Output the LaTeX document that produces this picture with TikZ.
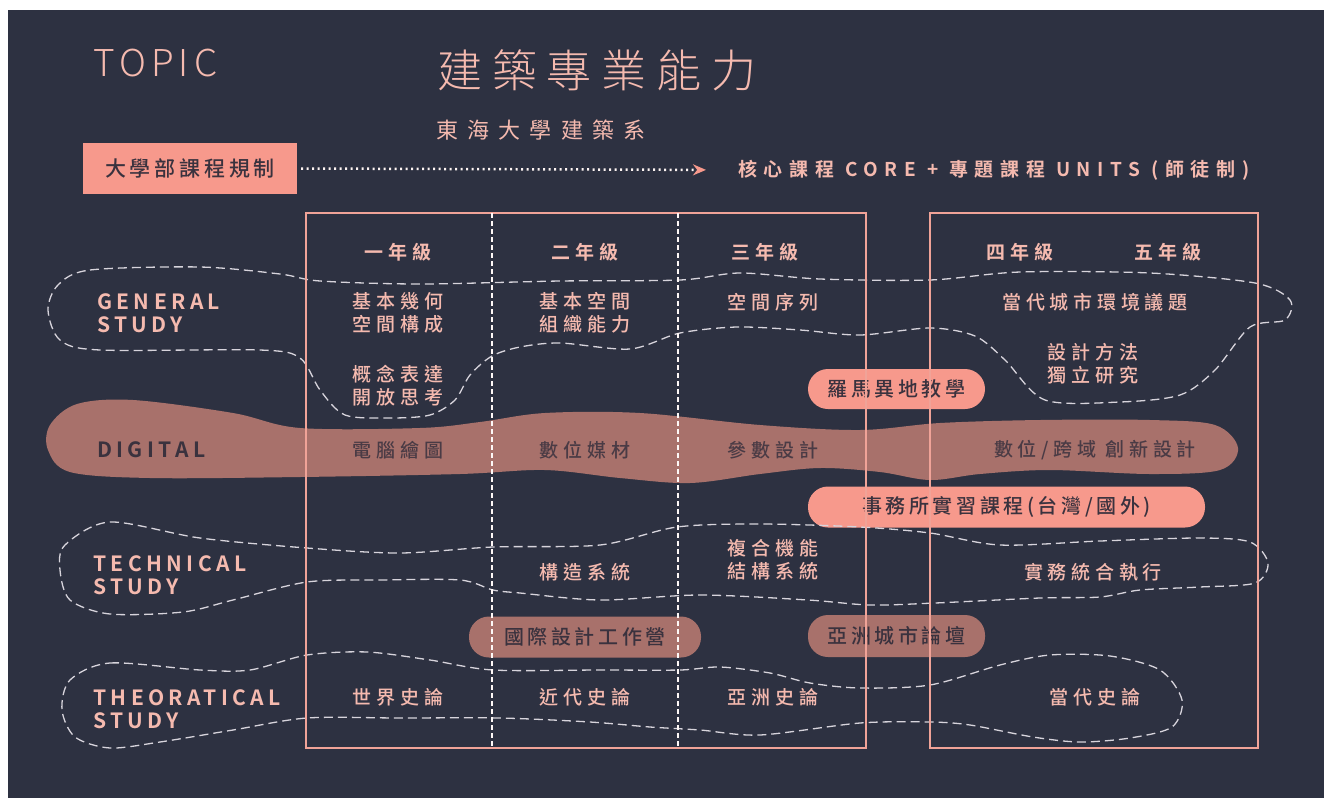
\documentclass[tikz,border=0pt]{standalone}
\usepackage{fontspec}
\usepackage{xcolor}
\usepackage{tikz}
\usetikzlibrary{arrows.meta}

\newfontfamily\cellfont[LetterSpace=25]{Noto Sans CJK TC Medium}
\newfontfamily\yearfont[LetterSpace=25]{Noto Sans CJK TC Bold}
\newfontfamily\labelfont[LetterSpace=21]{Noto Sans CJK TC Bold}
\newfontfamily\topicfont[LetterSpace=14]{Noto Sans CJK TC Light}
\newfontfamily\titlefont[LetterSpace=22]{Noto Sans CJK TC Light}
\newfontfamily\subtitlefont[LetterSpace=42]{Noto Sans CJK TC}
\newfontfamily\pillfont[LetterSpace=18]{Noto Sans CJK TC Medium}
\newfontfamily\corefont[LetterSpace=35]{Noto Sans CJK TC Bold}

\definecolor{navybg}{RGB}{45,49,65}
\definecolor{salmon}{RGB}{247,153,140}
\definecolor{rosebrown}{RGB}{168,113,107}
\definecolor{pinktext}{RGB}{245,186,175}
\definecolor{boxline}{RGB}{240,163,152}
\definecolor{dashwhite}{RGB}{215,212,220}
\definecolor{inkdark}{RGB}{58,50,62}

\tikzset{
  celltext/.style={text=pinktext, font={\cellfont\fontsize{19}{23}\selectfont}, align=center, inner sep=0pt},
  digitext/.style={celltext, text=inkdark!85!rosebrown},
  yeartext/.style={text=pinktext, font={\yearfont\fontsize{19}{23}\selectfont}, inner sep=0pt},
  rowlabel/.style={anchor=west, align=left, text=pinktext, font={\labelfont\fontsize{21}{23}\selectfont}, inner sep=0pt},
  pill/.style={rounded corners=20pt, fill=salmon, text=inkdark, inner sep=0pt,
    font={\pillfont\fontsize{20}{24}\selectfont}},
  studyblob/.style={draw=dashwhite, dash pattern=on 9pt off 5pt, line width=1.3pt},
  divider/.style={draw=white!90!pinktext, dash pattern=on 5pt off 3pt, line width=2pt},
  yearbox/.style={draw=boxline, line width=2.2pt},
  dotarrow/.style={draw=white!85!pinktext, line width=2.5pt, dash pattern=on 2pt off 3.5pt,
    -{Stealth[length=13pt,width=11pt,color=salmon]}}
}

\begin{document}
\begin{tikzpicture}[x=1pt,y=-1pt]
    % background
    \fill[white] (0,0) rectangle (1324,798);
    \fill[navybg] (8,10) rectangle (1324,798);
    \useasboundingbox (0,0) rectangle (1324,798);

    % heading
    \node[anchor=west, inner sep=0pt, text=pinktext, font={\topicfont\fontsize{37}{40}\selectfont}] (topic) at (93,63) {TOPIC};
    \node[anchor=west, inner sep=0pt, text=pinktext, font={\titlefont\fontsize{45}{50}\selectfont}] (title) at (437,70) {建築專業能力};
    \node[anchor=west, inner sep=0pt, text=pinktext, font={\subtitlefont\fontsize{22}{26}\selectfont}] (subtitle) at (436,130) {東海大學建築系};
    \node[fill=salmon, text=inkdark, minimum width=214pt, minimum height=51pt, inner sep=0pt,
      font={\pillfont\fontsize{21}{24}\selectfont}] (plan) at (190,168.5) {大學部課程規制};
    \node[anchor=west, inner sep=0pt, text=pinktext, font={\corefont\fontsize{19}{22}\selectfont}] (core) at (738,170)
      {核心課程 CORE + 專題課程 UNITS (師徒制)};
    \draw[dotarrow, shorten <=4pt, shorten >=32pt] (plan.east) -- (core.west);

    % digital band
    \fill[rosebrown] plot[smooth cycle, tension=0.55] coordinates {
      (50,425) (77,404) (133,400) (233,413) (300,428) (420,428) (480,422) (545,413)
      (640,413) (760,425) (860,430) (940,423) (1040,420) (1150,420) (1215,425)
      (1238,448) (1220,470) (1150,474) (1050,470) (980,474) (930,480) (880,472)
      (820,468) (760,474) (690,483) (620,478) (545,470) (460,474) (300,477)
      (150,478) (70,472) (48,450)};

    % pills
    \node[pill, minimum width=177pt, minimum height=40pt] (rome) at (896.5,389) {羅馬異地教學};
    \node[pill, minimum width=397pt, minimum height=41pt] (intern) at (1006.5,507) {事務所實習課程(台灣/國外)};
    \node[pill, fill=rosebrown, minimum width=232pt, minimum height=41pt] (workshop) at (585,637) {國際設計工作營};
    \node[pill, fill=rosebrown, minimum width=177pt, minimum height=42pt] (forum) at (896.5,636) {亞洲城市論壇};

    % general study
    \draw[studyblob] plot[smooth cycle, tension=0.5] coordinates {
      (58,285) (90,270) (200,267) (280,274) (320,281) (420,284) (560,281) (680,280)
      (740,273) (820,279) (930,280) (1020,272) (1150,273) (1255,283) (1290,300)
      (1285,320) (1250,327) (1215,370) (1180,395) (1120,402) (1045,400) (1005,360)
      (975,336) (930,328) (860,335) (800,330) (737,327) (680,333) (630,349)
      (560,343) (520,347) (492,356) (470,375) (455,400) (430,415) (390,418)
      (345,415) (320,390) (300,358) (260,350) (100,350) (60,340) (48,310)};
    % technical study
    \draw[studyblob] plot[smooth cycle, tension=0.5] coordinates {
      (65,545) (110,522) (200,538) (307,548) (400,553) (493,547) (600,545) (677,527)
      (760,524) (860,527) (930,533) (1000,545) (1100,541) (1200,538) (1250,542)
      (1268,563) (1255,583) (1200,587) (1140,590) (1100,597) (1040,598) (935,603)
      (870,605) (808,600) (700,595) (600,600) (520,593) (493,590) (460,580)
      (380,580) (307,582) (233,600) (183,612) (110,614) (70,600) (60,570)};
    % theoratical study
    \draw[studyblob] plot[smooth cycle, tension=0.5] coordinates {
      (70,680) (110,663) (200,670) (250,670) (307,655) (367,652) (430,660) (493,670)
      (600,670) (680,670) (720,667) (770,673) (810,683) (860,688) (930,685)
      (1000,665) (1050,655) (1110,656) (1160,670) (1182,700) (1172,727) (1130,738)
      (1080,742) (1033,737) (970,725) (930,722) (860,723) (760,735) (700,730)
      (650,727) (590,722) (500,718) (400,718) (307,718) (233,730) (160,742)
      (110,748) (75,737) (62,710)};

    % year boxes
    \draw[yearbox] (306,213) rectangle (866,748);
    \draw[yearbox] (930,213) rectangle (1258,748);
    \draw[divider] (492,213) -- (492,748);
    \draw[divider] (678,213) -- (678,748);

    % years
    \node[yeartext] (y1) at (398,252) {一年級};
    \node[yeartext] (y2) at (585,252) {二年級};
    \node[yeartext] (y3) at (765,252) {三年級};
    \node[yeartext] (y4) at (1020,252) {四年級};
    \node[yeartext] (y5) at (1168,252) {五年級};

    % row labels
    \node[rowlabel] (general) at (97,313) {GENERAL\\STUDY};
    \node[rowlabel, text=inkdark] (digital) at (97,450) {DIGITAL};
    \node[rowlabel] (technical) at (93,575) {TECHNICAL\\STUDY};
    \node[rowlabel] (theory) at (93,709) {THEORATICAL\\STUDY};

    % general
    \node[celltext] (g1a) at (398,313) {基本幾何\\空間構成};
    \node[celltext] (g1b) at (398,386) {概念表達\\開放思考};
    \node[celltext] (g2) at (585,313) {基本空間\\組織能力};
    \node[celltext] (g3) at (773,302) {空間序列};
    \node[celltext] (g45a) at (1095,302) {當代城市環境議題};
    \node[celltext] (g45b) at (1093,364) {設計方法\\獨立研究};
    % digital
    \node[digitext] (d1) at (398,450) {電腦繪圖};
    \node[digitext] (d2) at (585,450) {數位媒材};
    \node[digitext] (d3) at (773,450) {參數設計};
    \node[digitext] (d45) at (1095,450) {數位/跨域 創新設計};
    % technical
    \node[celltext] (t2) at (585,572) {構造系統};
    \node[celltext] (t3) at (773,560) {複合機能\\結構系統};
    \node[celltext] (t45) at (1093,572) {實務統合執行};
    % theoratical
    \node[celltext] (h1) at (398,697) {世界史論};
    \node[celltext] (h2) at (585,697) {近代史論};
    \node[celltext] (h3) at (773,697) {亞洲史論};
    \node[celltext] (h45) at (1095,697) {當代史論};
\end{tikzpicture}
\end{document}
